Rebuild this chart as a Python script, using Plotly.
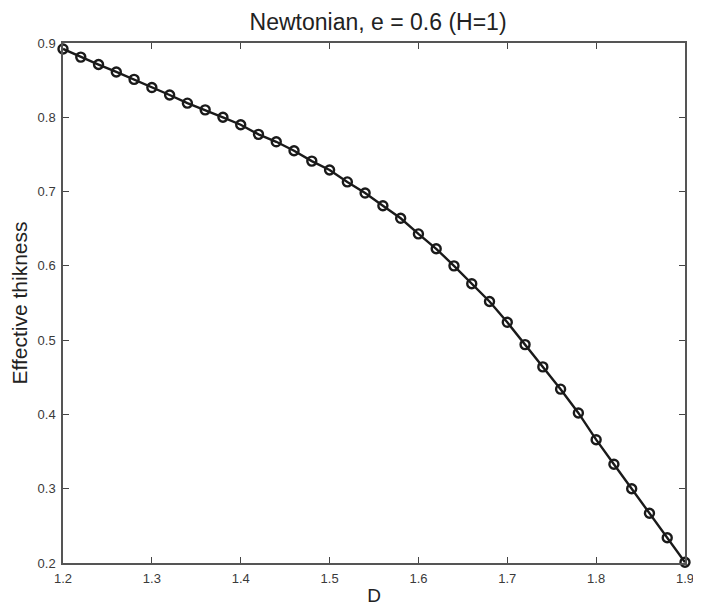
import plotly.graph_objects as go

D = [1.20, 1.22, 1.24, 1.26, 1.28, 1.30, 1.32, 1.34, 1.36, 1.38,
     1.40, 1.42, 1.44, 1.46, 1.48, 1.50, 1.52, 1.54, 1.56, 1.58,
     1.60, 1.62, 1.64, 1.66, 1.68, 1.70, 1.72, 1.74, 1.76, 1.78,
     1.80, 1.82, 1.84, 1.86, 1.88, 1.90]
thickness = [0.892, 0.881, 0.871, 0.861, 0.851, 0.840, 0.830, 0.819, 0.810, 0.800,
             0.790, 0.777, 0.767, 0.755, 0.741, 0.729, 0.713, 0.698, 0.681, 0.664,
             0.643, 0.623, 0.600, 0.576, 0.552, 0.524, 0.494, 0.464, 0.434, 0.402,
             0.366, 0.333, 0.300, 0.267, 0.234, 0.201]

x_ticks = [1.2, 1.3, 1.4, 1.5, 1.6, 1.7, 1.8, 1.9]
y_ticks = [0.2, 0.3, 0.4, 0.5, 0.6, 0.7, 0.8, 0.9]

FONT = "Liberation Sans, Arial, Helvetica, sans-serif"

fig = go.Figure()
fig.add_trace(go.Scatter(
    x=D, y=thickness, mode="lines+markers",
    line=dict(color="#1a1a1a", width=2.4),
    marker=dict(symbol="circle-open", size=9, color="#1a1a1a", line=dict(width=2.4)),
    showlegend=False, cliponaxis=False,
))

axis_common = dict(
    showline=True, linecolor="#555555", linewidth=1.5, mirror="ticks",
    ticks="inside", ticklen=6, tickwidth=1.2, tickcolor="#444444",
    showgrid=False, zeroline=False, ticklabeloverflow="allow", automargin=False,
    tickfont=dict(family=FONT, size=13, color="#3a3a3a"),
)

fig.update_layout(
    width=693, height=598,
    paper_bgcolor="white", plot_bgcolor="white",
    margin=dict(l=55, r=16, t=35, b=43),
    title=dict(text="Newtonian, e = 0.6 (H=1)", x=0.534, xanchor="center",
               y=0.976, yanchor="middle",
               font=dict(family=FONT, size=23, color="#222222")),
    xaxis=dict(range=[1.2, 1.9], tickvals=x_ticks, ticktext=[f"{v:.1f}" for v in x_ticks],
               ticklabelstandoff=3,
               title=dict(text="D", standoff=9, font=dict(family=FONT, size=19, color="#222222")),
               **axis_common),
    yaxis=dict(range=[0.2, 0.9], tickvals=y_ticks, ticktext=[f"{v:.1f}" for v in y_ticks],
               ticklabelstandoff=3,
               title=dict(text="Effective thikness", standoff=5, font=dict(family=FONT, size=21, color="#222222")),
               **axis_common),
)

fig.write_html("out.html")
